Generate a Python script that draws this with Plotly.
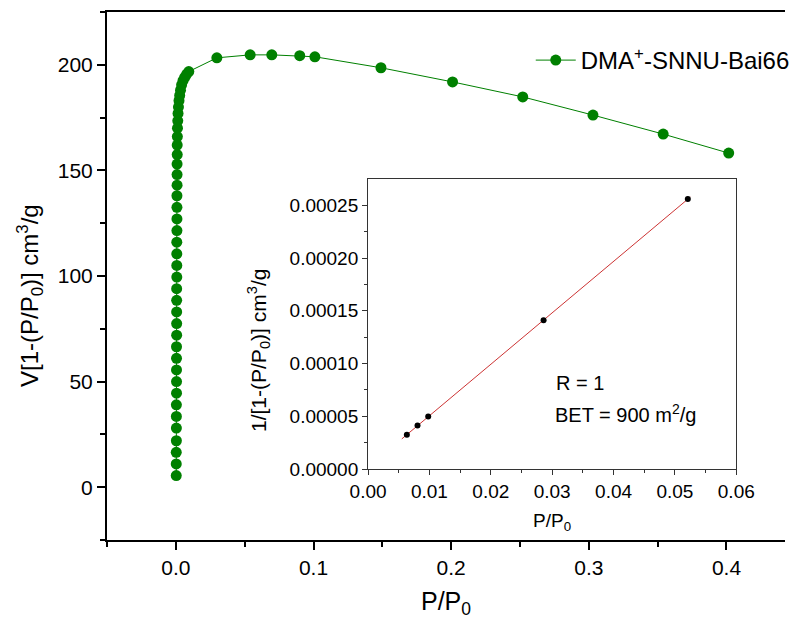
import numpy as np
import plotly.graph_objects as go

# ---- main isotherm data ----
main_x = [0.0003, 0.0003, 0.0003, 0.0004, 0.0004, 0.0004, 0.0004, 0.0005, 0.0005, 0.0005,
          0.0005, 0.0005, 0.0006, 0.0006, 0.0006, 0.0006, 0.0006, 0.0007, 0.0007, 0.0007,
          0.0007, 0.0008, 0.0008, 0.0008, 0.0008, 0.0009, 0.0009, 0.0009, 0.0010, 0.0010,
          0.0011, 0.0012, 0.0014, 0.0016, 0.0019, 0.0023, 0.0028, 0.0034, 0.0042, 0.0052,
          0.0064, 0.0078, 0.0094,
          0.0298, 0.0540, 0.0697, 0.0900, 0.1010, 0.1490, 0.2010, 0.2520, 0.3030, 0.3540, 0.4016]
main_y = [5.5, 11.0, 16.5, 22.0, 28.0, 33.5, 39.0, 44.5, 50.0, 55.5,
          61.0, 66.5, 72.0, 77.5, 83.0, 88.5, 94.0, 99.5, 105.0, 110.5,
          116.0, 121.5, 127.0, 132.5, 138.0, 143.0, 148.0, 153.0, 157.5, 162.0,
          166.0, 170.0, 173.5, 177.0, 180.0, 183.0, 185.5, 188.0, 190.5, 192.5,
          194.0, 195.5, 196.8,
          203.3, 204.7, 204.7, 204.3, 203.8, 198.6, 191.9, 184.8, 176.2, 167.2, 158.2]
series_name = "DMA<sup>+</sup>-SNNU-Bai66"

# ---- inset BET data ----
bet_x = [0.00632, 0.00806, 0.0098, 0.0286, 0.0521]
bet_y = [3.24e-5, 4.12e-5, 4.97e-5, 1.41e-4, 2.56e-4]
fit_x = [0.0055, 0.0525]

GREEN = "#008000"
FONT = "Liberation Sans, Arial, sans-serif"

fig = go.Figure()
fig.add_trace(go.Scatter(
    x=main_x, y=main_y, mode="lines+markers", name=series_name,
    line=dict(color=GREEN, width=1),
    marker=dict(color=GREEN, size=11, line=dict(width=0)),
    xaxis="x", yaxis="y"))

slope, intercept = np.polyfit(bet_x, bet_y, 1)
fit_y = [slope * v + intercept for v in fit_x]
fig.add_trace(go.Scatter(
    x=fit_x, y=fit_y, mode="lines", line=dict(color="#cc3333", width=1),
    showlegend=False, xaxis="x2", yaxis="y2"))
fig.add_trace(go.Scatter(
    x=bet_x, y=bet_y, mode="markers", marker=dict(color="black", size=6),
    showlegend=False, xaxis="x2", yaxis="y2"))

W, H = 803, 621
ml, mr, mt, mb = 107, 0, 12, 81
pw, ph = W - ml - mr, H - mt - mb

def px_x(p):
    return (p - ml) / pw

def px_y(p):
    return (H - mb - p) / ph

fig.update_layout(
    width=W, height=H,
    margin=dict(l=ml, r=mr, t=mt, b=mb),
    paper_bgcolor="white", plot_bgcolor="white",
    font=dict(family=FONT, color="black"),
    showlegend=True,
    legend=dict(x=px_x(542), y=px_y(38), xanchor="left", yanchor="top",
                font=dict(size=24, family=FONT), bgcolor="rgba(0,0,0,0)",
                itemwidth=40),
    xaxis=dict(range=[-0.05, 0.4425], domain=[0, 1],
               tickvals=[0.0, 0.1, 0.2, 0.3, 0.4], ticktext=["0.0", "0.1", "0.2", "0.3", "0.4"],
               ticks="outside", ticklen=8, tickwidth=2, tickcolor="black",
               minor=dict(ticks="outside", ticklen=5, tickwidth=2, tickcolor="black",
                          tickvals=[-0.05, 0.05, 0.15, 0.25, 0.35]),
               showline=True, linewidth=2, linecolor="black", mirror=True,
               showgrid=False, zeroline=False,
               tickfont=dict(size=21, family=FONT)),
    yaxis=dict(range=[-25, 225], domain=[0, 1],
               tickvals=[0, 50, 100, 150, 200],
               ticks="outside", ticklen=8, tickwidth=2, tickcolor="black",
               minor=dict(ticks="outside", ticklen=5, tickwidth=2, tickcolor="black",
                          tickvals=[-25, 25, 75, 125, 175, 225]),
               showline=True, linewidth=2, linecolor="black", mirror=False,
               showgrid=False, zeroline=False,
               tickfont=dict(size=21, family=FONT)),
    xaxis2=dict(range=[0, 0.06], domain=[px_x(375), px_x(753)], anchor="y2",
                tickvals=[0, 0.01, 0.02, 0.03, 0.04, 0.05, 0.06],
                ticktext=["0.00", "0.01", "0.02", "0.03", "0.04", "0.05", "0.06"],
                ticks="outside", ticklen=5, tickwidth=1, tickcolor="#333",
                minor=dict(ticks="outside", ticklen=3, tickwidth=1, tickcolor="#333",
                           tickvals=[0.005, 0.015, 0.025, 0.035, 0.045, 0.055]),
                showline=True, linewidth=1, linecolor="#333", mirror=True,
                showgrid=False, zeroline=False,
                tickfont=dict(size=19, family=FONT)),
    yaxis2=dict(range=[0, 0.000275], domain=[px_y(469), px_y(179)], anchor="x2",
                tickvals=[0, 0.00005, 0.0001, 0.00015, 0.0002, 0.00025],
                ticktext=["0.00000", "0.00005", "0.00010", "0.00015", "0.00020", "0.00025"],
                ticks="outside", ticklen=5, tickwidth=1, tickcolor="#333",
                minor=dict(ticks="outside", ticklen=3, tickwidth=1, tickcolor="#333",
                           tickvals=[0.000025, 0.000075, 0.000125, 0.000175, 0.000225]),
                showline=True, linewidth=1, linecolor="#333", mirror=True,
                showgrid=False, zeroline=False,
                tickfont=dict(size=19, family=FONT)),
)

annotations = [
    dict(text="V[1-(P/P<sub>0</sub>)] cm<sup>3</sup>/g", x=px_x(28), y=px_y(296),
         xref="paper", yref="paper", textangle=-90, showarrow=False,
         font=dict(size=24, family=FONT), xanchor="center", yanchor="middle"),
    dict(text="P/P<sub>0</sub>", x=px_x(455), y=px_y(603),
         xref="paper", yref="paper", showarrow=False,
         font=dict(size=25, family=FONT), xanchor="center", yanchor="middle"),
    dict(text="1/[1-(P/P<sub>0</sub>)] cm<sup>3</sup>/g", x=px_x(262), y=px_y(350),
         xref="paper", yref="paper", textangle=-90, showarrow=False,
         font=dict(size=21, family=FONT), xanchor="center", yanchor="middle"),
    dict(text="P/P<sub>0</sub>", x=px_x(564), y=px_y(522),
         xref="paper", yref="paper", showarrow=False,
         font=dict(size=19, family=FONT), xanchor="center", yanchor="middle"),
    dict(text="R = 1", x=px_x(566), y=px_y(383),
         xref="paper", yref="paper", showarrow=False,
         font=dict(size=20, family=FONT), xanchor="left", yanchor="middle"),
    dict(text="BET = 900 m<sup>2</sup>/g", x=px_x(565), y=px_y(413),
         xref="paper", yref="paper", showarrow=False,
         font=dict(size=20, family=FONT), xanchor="left", yanchor="middle"),
]
fig.update_layout(annotations=annotations)

fig.write_html("out.html")
